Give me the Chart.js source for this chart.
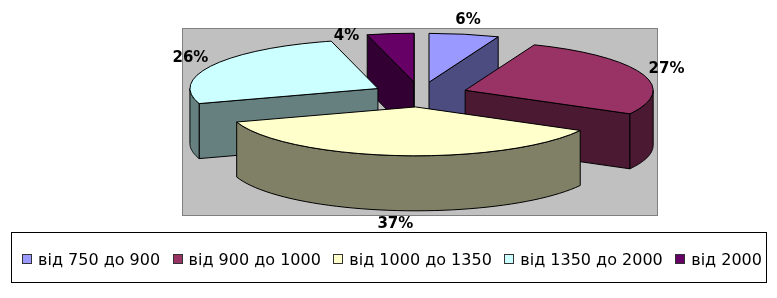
<!DOCTYPE html>
<html><head><meta charset="utf-8">
<script src="https://cdn.jsdelivr.net/npm/chart.js@4"></script>
<style>
html,body{margin:0;padding:0;background:#fff;}
#wrap{position:relative;width:777px;height:298px;overflow:hidden;}
#c{position:absolute;left:0;top:0;}
#legend{position:absolute;left:11px;top:232px;width:756px;height:51px;box-sizing:border-box;border:1px solid #000;display:flex;align-items:center;justify-content:space-between;padding:3px 4px 0 10px;font:16px "DejaVu Sans",sans-serif;color:#000;}
.item{display:flex;align-items:center;white-space:nowrap;}
.sw{width:8px;height:8px;border:1px solid #333;margin-right:6px;}
</style></head>
<body><div id="wrap"><canvas id="c" width="777" height="298"></canvas><div id="legend"></div></div>
<script>
const categories = ['від 750 до 900', 'від 900 до 1000', 'від 1000 до 1350', 'від 1350 до 2000', 'від 2000'];
const shares = [6, 27, 37, 26, 4];
const topColors = ['#9999FF', '#993366', '#FFFFCC', '#CCFFFF', '#660066'];
const sideColors = ['#4C4C80', '#4C1933', '#808066', '#668080', '#330033'];

function geometry(chart, o) {
  const a = chart.chartArea;
  const el = chart.getDatasetMeta(0).data[0];
  const R = (a.right - a.left) / 2 - o.explode - 2;
  return {
    R, k: o.tilt, depth: o.depth, ex: o.explode,
    cx: (a.left + a.right) / 2,
    cy: (a.top + a.bottom) / 2 - o.depth / 2,
    s: R / el.outerRadius
  };
}

const pie3d = {
  id: 'pie3d',
  beforeDraw(chart) {
    const {ctx, chartArea: a} = chart;
    ctx.save();
    ctx.fillStyle = '#C0C0C0';
    ctx.fillRect(a.left, a.top, a.right - a.left, a.bottom - a.top);
    ctx.strokeStyle = '#808080';
    ctx.lineWidth = 1;
    ctx.strokeRect(a.left + 0.5, a.top + 0.5, a.right - a.left - 1, a.bottom - a.top - 1);
    ctx.restore();
  },
  beforeDatasetsDraw(chart, args, o) {
    const ctx = chart.ctx;
    const meta = chart.getDatasetMeta(0);
    const g = geometry(chart, o);
    const slices = meta.data.map((el, i) => {
      const m = (el.startAngle + el.endAngle) / 2;
      return {el, i, a0: el.startAngle, a1: el.endAngle, m,
        ox: g.ex * Math.cos(m), oy: g.ex * g.k * Math.sin(m)};
    });
    slices.sort((p, q) => Math.sin(p.m) - Math.sin(q.m));
    const P = (s, ang, r, dz) => ({
      x: g.cx + s.ox + r * g.R * Math.cos(ang),
      y: g.cy + s.oy + r * g.R * g.k * Math.sin(ang) + dz
    });
    ctx.save();
    ctx.lineWidth = 1;
    ctx.strokeStyle = o.edge;
    ctx.lineJoin = 'round';
    const poly = (pts, fill) => {
      ctx.beginPath();
      pts.forEach((p, j) => j ? ctx.lineTo(p.x, p.y) : ctx.moveTo(p.x, p.y));
      ctx.closePath();
      ctx.fillStyle = fill;
      ctx.fill();
      ctx.stroke();
    };
    // side walls
    slices.forEach(s => {
      const col = sideColors[s.i];
      if (Math.cos(s.a0) < 0) {
        poly([P(s, s.a0, 0, 0), P(s, s.a0, 1, 0), P(s, s.a0, 1, g.depth), P(s, s.a0, 0, g.depth)], col);
      }
      if (Math.cos(s.a1) > 0) {
        poly([P(s, s.a1, 0, 0), P(s, s.a1, 1, 0), P(s, s.a1, 1, g.depth), P(s, s.a1, 0, g.depth)], col);
      }
      const lo = Math.max(s.a0, 0), hi = Math.min(s.a1, Math.PI);
      if (hi > lo) {
        const n = 48, top = [], bot = [];
        for (let j = 0; j <= n; j++) {
          const t = lo + (hi - lo) * j / n;
          top.push(P(s, t, 1, 0));
          bot.push(P(s, t, 1, g.depth));
        }
        poly(top.concat(bot.reverse()), col);
      }
    });
    // top faces (drawn by the arc elements, projected)
    slices.forEach(s => {
      const el = s.el;
      ctx.save();
      ctx.translate(g.cx + s.ox, g.cy + s.oy);
      ctx.scale(g.s, g.s * g.k);
      ctx.translate(-el.x, -el.y);
      el.draw(ctx);
      ctx.beginPath();
      ctx.moveTo(el.x, el.y);
      ctx.arc(el.x, el.y, el.outerRadius, el.startAngle, el.endAngle);
      ctx.closePath();
      ctx.restore();
      ctx.stroke();
    });
    ctx.restore();
    return false;
  },
  afterDraw(chart, args, o) {
    const ctx = chart.ctx;
    const meta = chart.getDatasetMeta(0);
    const g = geometry(chart, o);
    ctx.save();
    ctx.font = o.labelFont;
    ctx.fillStyle = '#000';
    ctx.textAlign = 'center';
    ctx.textBaseline = 'middle';
    meta.data.forEach((el, i) => {
      const m = (el.startAngle + el.endAngle) / 2;
      const c = Math.cos(m), sn = Math.sin(m);
      const txt = shares[i] + '%';
      const w = ctx.measureText(txt).width, h = 12, gap = 8;
      const ox = g.ex * c, oy = g.ex * g.k * sn;
      if (shares[i] < 5) {
        // narrow slice: label sits beside the outer corner of its top face
        const edge = c < 0 ? el.startAngle : el.endAngle;
        const ex = g.cx + ox + g.R * Math.cos(edge);
        const ey = g.cy + oy + g.R * g.k * Math.sin(edge);
        ctx.fillText(txt, ex + Math.sign(c) * (w / 2 + gap), ey + 1);
        return;
      }
      const d = g.R + g.ex;
      const px = g.cx + d * c;
      const py = g.cy + d * g.k * sn + g.depth * Math.max(0, sn);
      ctx.fillText(txt, px + c * (w / 2 + gap), py + sn * (h / 2 + gap));
    });
    ctx.restore();
  }
};

const chart = new Chart(document.getElementById('c'), {
  type: 'pie',
  data: {
    labels: categories,
    datasets: [{
      data: shares,
      backgroundColor: topColors,
      borderWidth: 0,
      offset: 0,
      hoverOffset: 0
    }]
  },
  options: {
    responsive: false,
    animation: false,
    events: [],
    layout: {padding: {left: 182, right: 119, top: 28, bottom: 82}},
    plugins: {
      legend: {display: false},
      tooltip: {enabled: false},
      pie3d: {depth: 55, tilt: 0.26, explode: 48, edge: '#000', labelFont: 'bold 15px "DejaVu Sans", sans-serif'}
    }
  },
  plugins: [pie3d]
});

const legend = document.getElementById('legend');
categories.forEach((name, i) => {
  const it = document.createElement('div');
  it.className = 'item';
  const sw = document.createElement('span');
  sw.className = 'sw';
  sw.style.background = topColors[i];
  const tx = document.createElement('span');
  tx.textContent = name;
  it.appendChild(sw);
  it.appendChild(tx);
  legend.appendChild(it);
});
</script>
</body></html>
